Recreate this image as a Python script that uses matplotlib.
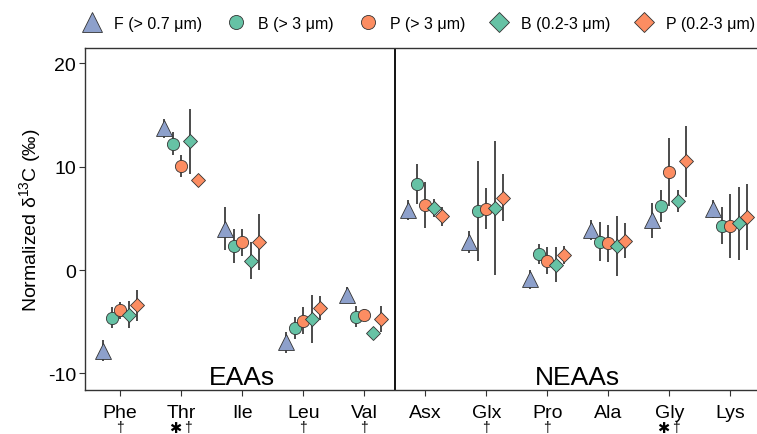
import matplotlib
matplotlib.use('Agg')
import matplotlib.pyplot as plt
from matplotlib.lines import Line2D
import numpy as np

plt.rcParams['font.family'] = ['Liberation Sans', 'DejaVu Sans']
plt.rcParams['mathtext.default'] = 'regular'

amino = ['Phe', 'Thr', 'Ile', 'Leu', 'Val', 'Asx', 'Glx', 'Pro', 'Ala', 'Gly', 'Lys']
star = [False, True, False, False, False, False, False, False, False, True, False]
dagger = [True, True, False, True, True, False, True, True, False, True, False]

series = ['F (> 0.7 μm)', 'B (> 3 μm)', 'P (> 3 μm)', 'B (0.2-3 μm)', 'P (0.2-3 μm)']

f_mean = [-7.8, 13.7, 4.0, -7.0, -2.4, 5.8, 2.7, -0.9, 3.9, 4.8, 5.9]
f_err = [1.0, 0.9, 2.1, 1.0, 0.8, 0.95, 1.1, 0.9, 0.95, 1.7, 0.9]

b3_mean = [-4.6, 12.2, 2.35, -5.6, -4.5, 8.3, 5.7, 1.55, 2.75, 6.2, 4.3]
b3_err = [1.0, 1.1, 1.65, 1.05, 1.0, 1.95, 4.85, 0.95, 1.9, 1.55, 1.8]

p3_mean = [-3.9, 10.05, 2.7, -4.9, -4.3, 6.3, 5.95, 0.9, 2.6, 9.45, 4.3]
p3_err = [0.8, 1.05, 1.3, 1.3, 0.5, 2.25, 1.95, 1.3, 1.8, 3.3, 3.1]

b02_mean = [-4.3, 12.45, 0.9, -4.75, -6.1, 6.0, 6.0, 0.5, 2.35, 6.7, 4.5]
b02_err = [1.3, 3.15, 1.8, 2.3, 0.3, 0.9, 6.5, 1.7, 2.9, 1.05, 3.5]

p02_mean = [-3.4, 8.75, 2.7, -3.7, -4.7, 5.2, 7.0, 1.45, 2.85, 10.5, 5.1]
p02_err = [1.5, 0.3, 2.7, 1.15, 1.25, 0.9, 2.3, 0.85, 1.7, 3.4, 3.2]

means = [f_mean, b3_mean, p3_mean, b02_mean, p02_mean]
errs = [f_err, b3_err, p3_err, b02_err, p02_err]
colors = ['#8DA0CB', '#66C2A5', '#FC8D62', '#66C2A5', '#FC8D62']
markers = ['^', 'o', 'o', 'D', 'D']
msizes = [12, 8.8, 8.8, 7.6, 7.6]
offsets = [-0.28, -0.14, 0.0, 0.14, 0.28]

W, H = 757, 435
fig = plt.figure(figsize=(W / 100, H / 100), dpi=100)
ax = fig.add_axes([84.5 / W, 1 - 391 / H, (767 - 84.5) / W, (391 - 49) / H])

x = np.arange(1, len(amino) + 1)
for i in range(len(series)):
    xi = x + offsets[i]
    ax.errorbar(xi, means[i], yerr=errs[i], fmt='none', ecolor='#1a1a1a',
                elinewidth=1.1, capsize=0, zorder=2)
for i in range(len(series)):
    xi = x + offsets[i]
    ax.plot(xi, means[i], linestyle='none', marker=markers[i], markersize=msizes[i],
            markerfacecolor=colors[i], markeredgecolor='#333333',
            markeredgewidth=0.6, zorder=3 + i)

ax.axvline(5.5, color='black', lw=1.3, zorder=1)

ax.set_xlim(0.415, 11.6)
ax.set_ylim(-11.6, 21.47)
ax.set_xticks(x)
ax.set_xticklabels(amino, fontsize=14)
ax.set_yticks([-10, 0, 10, 20])
ax.set_yticklabels(['-10', '0', '10', '20'], fontsize=14)
ax.tick_params(axis='both', length=4, width=0.8, color='#333333', labelcolor='black')
ax.tick_params(axis='x', pad=6)
ax.tick_params(axis='y', pad=2)
for s in ['left', 'top', 'bottom']:
    ax.spines[s].set_color('#333333')
    ax.spines[s].set_linewidth(1.0)
ax.spines['right'].set_visible(False)

ax.set_ylabel('Normalized δ$^{13}$C (‰)', fontsize=14, labelpad=3.5)

ax.text(3, -11.0, 'EAAs', fontsize=19, ha='center', va='baseline')
ax.text(8.5, -11.0, 'NEAAs', fontsize=19, ha='center', va='baseline')

# significance marks under the tick labels
trans = ax.get_xaxis_transform()
ymark = -(421 - 391) / (391 - 49)
for xi, s, d in zip(x, star, dagger):
    if s:
        ax.text(xi - 0.1, ymark, '✱', fontsize=10.5, family='DejaVu Sans',
                ha='center', va='top', transform=trans, clip_on=False)
        if d:
            ax.text(xi + 0.11, ymark, '†', fontsize=10, ha='center', va='top',
                    transform=trans, clip_on=False)
    elif d:
        ax.text(xi, ymark, '†', fontsize=10, ha='center', va='top',
                transform=trans, clip_on=False)

handles = []
for i in range(len(series)):
    ms = msizes[i] * 1.15 if markers[i] != 'D' else msizes[i] * 1.35
    handles.append(Line2D([], [], linestyle='none', marker=markers[i], markersize=ms,
                          markerfacecolor=colors[i], markeredgecolor='#333333',
                          markeredgewidth=0.6))
fig.legend(handles, series, loc='center left', bbox_to_anchor=(84 / W, 1 - 24 / H),
           ncol=5, frameon=False, fontsize=11.5, handlelength=1.0,
           handletextpad=0.9, columnspacing=1.6, borderpad=0, borderaxespad=0)

fig.savefig('out.png', dpi=100)
